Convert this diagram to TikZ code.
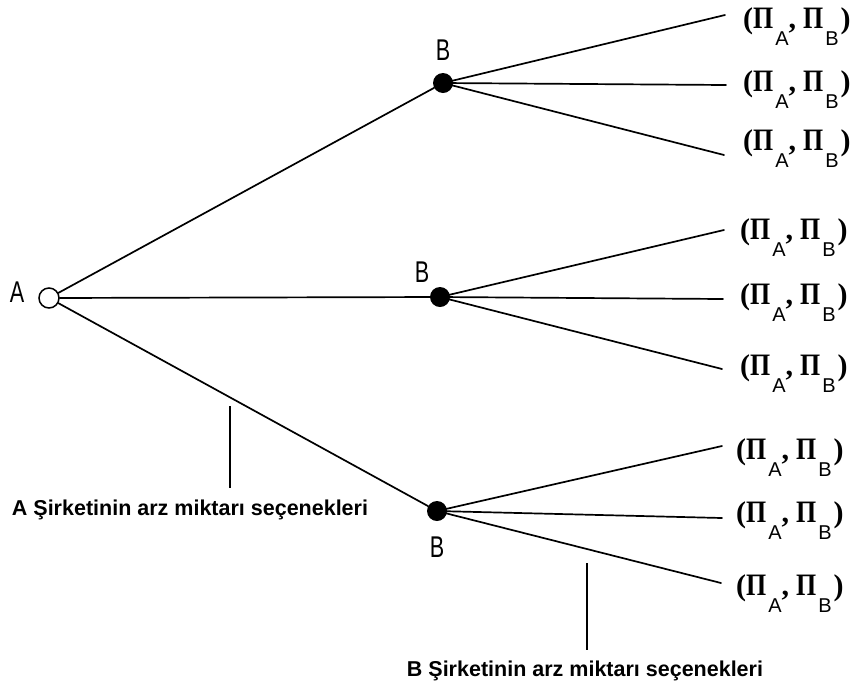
\documentclass[tikz,border=0pt]{standalone}
\usepackage{fontspec}
\usepackage{graphicx}
\setmainfont{Liberation Serif}
\newfontfamily\labelfont{Liberation Sans}
% payoff pair: large parentheses, Pi letters and hanging sans subscripts
\newcommand\parenfont{\bfseries\fontsize{30}{32}\selectfont}
\newcommand\bigpi{{\bfseries\fontsize{24}{28}\selectfont\scalebox{1.08}[1.3]{Π}}}
\newcommand\subfont{\labelfont\fontsize{20}{20}\selectfont}
\newcommand\payoffpair{{\parenfont(}\bigpi\hspace{2pt}\raisebox{-17pt}{\subfont A}{\parenfont,}\hspace{7pt}\bigpi\hspace{2pt}\raisebox{-17pt}{\subfont B}\hspace{2pt}{\parenfont)}}
\begin{document}
\begin{tikzpicture}[x=1pt,y=-1pt,
  branch/.style={line width=1.7pt,line cap=round},
  pointer/.style={line width=1.8pt},
  chance/.style={circle,draw,line width=1.5pt,fill=white,minimum size=20pt,inner sep=0pt},
  decision/.style={circle,fill=black,minimum size=20pt,inner sep=0pt},
  playername/.style={font=\labelfont\fontsize{30}{30}\selectfont,inner sep=0pt},
  payoff/.style={anchor=base west,inner sep=0pt},
  caption/.style={font=\labelfont\bfseries\fontsize{21.5}{24}\selectfont,inner sep=0pt}]
\useasboundingbox[fill=white] (0,0) rectangle (858,689);

% root and second-stage nodes
\node[chance] (a) at (49,298) {};
\node[playername] (la) at (17,292) {\scalebox{0.72}[1]{A}};
\node[decision] (b1) at (443,83) {};
\node[decision] (b2) at (440,297) {};
\node[decision] (b3) at (437,511) {};
\node[playername] (lb1) at (443,50) {\scalebox{0.72}[1]{B}};
\node[playername] (lb2) at (422,272) {\scalebox{0.72}[1]{B}};
\node[playername] (lb3) at (437,547) {\scalebox{0.72}[1]{B}};

% end points of the final branches
\coordinate (e11) at (725,15);
\coordinate (e12) at (726,85);
\coordinate (e13) at (724,155);
\coordinate (e21) at (724,230);
\coordinate (e22) at (723,299);
\coordinate (e23) at (722,369);
\coordinate (e31) at (722,446);
\coordinate (e32) at (722,518);
\coordinate (e33) at (721,583);

% payoff pairs at the ends
\node[payoff] (p11) at (743,28) {\payoffpair};
\node[payoff] (p12) at (743,91) {\payoffpair};
\node[payoff] (p13) at (743,150) {\payoffpair};
\node[payoff] (p21) at (740,239) {\payoffpair};
\node[payoff] (p22) at (740,304) {\payoffpair};
\node[payoff] (p23) at (740,375) {\payoffpair};
\node[payoff] (p31) at (736,459) {\payoffpair};
\node[payoff] (p32) at (736,522) {\payoffpair};
\node[payoff] (p33) at (736,595) {\payoffpair};

% first-stage branches
\draw[branch] (a) -- (b1);
\draw[branch] (a) -- (b2);
\draw[branch] (a) -- (b3);

% second-stage branches
\foreach \b/\i in {b1/1,b2/2,b3/3}{
  \foreach \j in {1,2,3}{
    \draw[branch] (\b.center) -- (e\i\j);
  }
}

% captions for the two stages
\coordinate (ta) at (230,406);
\coordinate (ha) at (230,488);
\node[caption] (ca) at (190,510) {A Şirketinin arz miktarı seçenekleri};
\draw[pointer] (ta) -- (ha);
\coordinate (tb) at (587,563);
\coordinate (hb) at (587,650);
\node[caption] (cb) at (585,671) {B Şirketinin arz miktarı seçenekleri};
\draw[pointer] (tb) -- (hb);
\end{tikzpicture}
\end{document}
